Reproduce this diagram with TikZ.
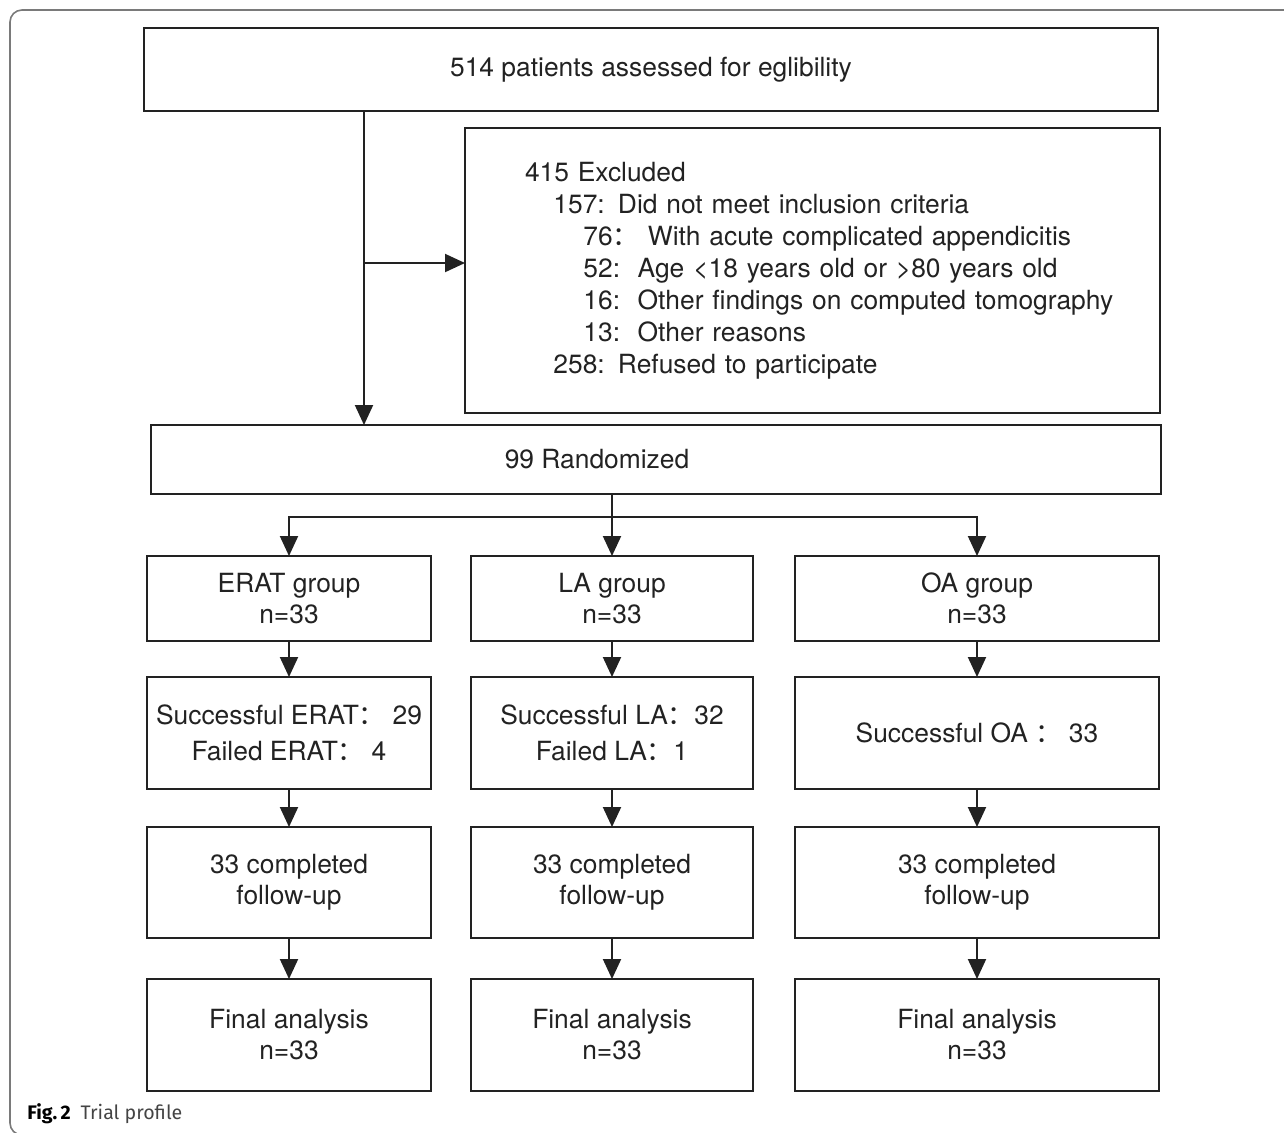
\documentclass[tikz,border=0pt]{standalone}
\usepackage{fontspec}
\setmainfont{TeX Gyre Heros}
\newfontfamily\capfont{Fira Sans}
\newfontfamily\cjk{Noto Sans CJK SC}
\usetikzlibrary{arrows.meta,positioning}
\definecolor{ink}{HTML}{222222}
\definecolor{rim}{HTML}{7A7A7A}
\definecolor{capgray}{HTML}{444444}
\newcommand{\fwc}{{\cjk ：}}
\tikzset{
  box/.style={draw=ink,line width=1.1pt,align=center,text=ink,inner sep=0pt,
    outer sep=0pt,font=\fontsize{13.2pt}{15.5pt}\selectfont},
  arrow/.style={-{Triangle[length=10pt,width=9pt]},line width=1pt,draw=ink},
  colA/.style={box,minimum width=142pt},
  colB/.style={box,minimum width=141pt},
  colC/.style={box,minimum width=182pt},
  grp/.style={minimum height=42.5pt},
  surg/.style={minimum height=56pt,font=\fontsize{13.2pt}{18pt}\selectfont},
  fup/.style={minimum height=55.5pt},
  fin/.style={minimum height=56pt}
}
\begin{document}
\begin{tikzpicture}[x=0.5pt,y=-0.5pt]
\useasboundingbox (0,0) rectangle (1284,1132);
\draw[rim,line width=0.8pt,rounded corners=6pt] (1300,10) -- (10,10) -- (10,1135) -- (1300,1135);

\node[box,minimum width=507pt,minimum height=41.5pt] (screen) at (651,69.5)
  {514 patients assessed for eglibility};
\node[box,minimum width=347.5pt,minimum height=142.5pt,text width=287.5pt,
  inner xsep=30pt,align=left,font=\fontsize{13.2pt}{16pt}\selectfont] (excl) at (812.5,270.5)
  {\mbox{415 Excluded}\\
   \mbox{\hspace*{14.2pt}157: Did not meet inclusion criteria}\\
   \mbox{\hspace*{29.2pt}76\fwc{} With acute complicated appendicitis}\\
   \mbox{\hspace*{29.2pt}52:\ \ Age <18 years old or >80 years old}\\
   \mbox{\hspace*{29.2pt}16:\ \ Other findings on computed tomography}\\
   \mbox{\hspace*{29.2pt}13:\ \ Other reasons}\\
   \mbox{\hspace*{14.2pt}258: Refused to participate}};
\node[box,minimum width=505pt,minimum height=34.5pt] (rand) at (656,459.5)
  {99 Randomized\hspace{59pt}};

% three arms
\node[colA,grp] (erat) at (289,598.5) {ERAT group\\n=33};
\node[colB,grp] (la) at (612,598.5) {LA group\\n=33};
\node[colC,grp] (oa) at (977,598.5) {OA group\\n=33};

\node[colA,surg,below=18pt of erat] (eratok) {Successful ERAT\fwc{} 29\\Failed ERAT\fwc{} 4};
\node[colB,surg,below=18pt of la] (laok) {Successful LA\fwc32\\Failed LA\fwc1};
\node[colC,surg,below=18pt of oa] (oaok) {Successful OA \fwc{} 33};

\node[colA,fup,below=19pt of eratok] (eratfu) {33 completed\\follow-up};
\node[colB,fup,below=19pt of laok] (lafu) {33 completed\\follow-up};
\node[colC,fup,below=19pt of oaok] (oafu) {33 completed\\follow-up};

\node[colA,fin,below=20.5pt of eratfu] (eratfin) {Final analysis\\n=33};
\node[colB,fin,below=20.5pt of lafu] (lafin) {Final analysis\\n=33};
\node[colC,fin,below=20.5pt of oafu] (oafin) {Final analysis\\n=33};

% connectors
\coordinate (trunk) at (364,263);
\draw[arrow] (screen.south -| trunk) -- (rand.north -| trunk);
\draw[arrow] (trunk) -- (trunk -| excl.west);
\path (la.north) ++(0,-39) coordinate (bus);
\draw[arrow] (rand.south -| la.north) -- (la.north);
\draw[arrow] (bus) -| (erat.north);
\draw[arrow] (bus) -| (oa.north);
\draw[arrow] (erat) -- (eratok);
\draw[arrow] (la) -- (laok);
\draw[arrow] (oa) -- (oaok);
\draw[arrow] (eratok) -- (eratfu);
\draw[arrow] (laok) -- (lafu);
\draw[arrow] (oaok) -- (oafu);
\draw[arrow] (eratfu) -- (eratfin);
\draw[arrow] (lafu) -- (lafin);
\draw[arrow] (oafu) -- (oafin);

\node[anchor=base west,inner sep=0pt,font=\capfont\fontsize{9.8pt}{11pt}\selectfont,text=capgray] (caption)
  at (27,1119) {\textcolor{black}{\bfseries Fig.\,2}\enspace Trial profile};
\end{tikzpicture}
\end{document}
